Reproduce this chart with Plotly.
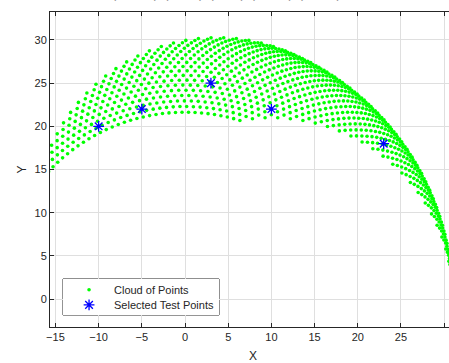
import numpy as np
import plotly.graph_objects as go

# Two-link planar arm: link lengths and joint sampling (degrees)
link_lengths = [10.0, 21.0]
theta1_deg = list(range(0, 69, 2))    # shoulder joint samples
theta2_deg = list(range(0, 101, 4))   # elbow joint samples

# Selected test points
test_x = [-10, -5, 3, 10, 23]
test_y = [20, 22, 25, 22, 18]

x_ticks = [-15, -10, -5, 0, 5, 10, 15, 20, 25, 30]
y_ticks = [0, 5, 10, 15, 20, 25, 30]

legend_labels = ["Cloud of Points", "Selected Test Points"]

# Forward kinematics over the joint grid
t1, t2 = np.meshgrid(np.radians(theta1_deg), np.radians(theta2_deg))
L1, L2 = link_lengths
cloud_x = (L1 * np.cos(t1) + L2 * np.cos(t1 + t2)).ravel()
cloud_y = (L1 * np.sin(t1) + L2 * np.sin(t1 + t2)).ravel()

cloud_marker = dict(color="#00ff00", size=3.6, line=dict(width=0))
star_marker = dict(symbol="asterisk-open", color="#0000ff", size=9,
                   line=dict(color="#0000ff", width=1.3))

fig = go.Figure()
fig.add_trace(go.Scatter(x=cloud_x, y=cloud_y, mode="markers",
                         name=legend_labels[0], marker=cloud_marker, showlegend=False))
fig.add_trace(go.Scatter(x=test_x, y=test_y, mode="markers",
                         name=legend_labels[1], marker=star_marker, showlegend=False))

# Compact legend drawn in its own small overlay axes
LEG = dict(x0=0.0326, x1=0.4236, y0=0.0381, y1=0.1524)
fig.add_trace(go.Scatter(x=[0.167], y=[0.70], mode="markers", marker=cloud_marker,
                         xaxis="x2", yaxis="y2", showlegend=False, hoverinfo="skip"))
fig.add_trace(go.Scatter(x=[0.167], y=[0.28], mode="markers", marker=star_marker,
                         xaxis="x2", yaxis="y2", showlegend=False, hoverinfo="skip"))

font_family = "Liberation Sans, Arial, sans-serif"
ink = "#262626"

axis_common = dict(
    showgrid=True, gridcolor="#dfdfdf", gridwidth=1,
    zeroline=False, showline=True, linecolor=ink, linewidth=1,
    ticks="inside", ticklen=4, tickcolor=ink,
    tickfont=dict(family=font_family, size=11, color=ink),
)

fig.update_layout(
    width=449, height=363,
    margin=dict(l=50, r=0, t=12, b=36),
    paper_bgcolor="white", plot_bgcolor="white",
    font=dict(family=font_family, color=ink),
    xaxis=dict(range=[-15.63, 30.56], tickvals=x_ticks, mirror="ticks", **axis_common),
    yaxis=dict(range=[-3.24, 33.24], tickvals=y_ticks, mirror=False,
               title=dict(text="Y", font=dict(size=12), standoff=5), **axis_common),
    xaxis2=dict(domain=[LEG["x0"], LEG["x1"]], range=[0, 1], anchor="y2",
                visible=False, fixedrange=True),
    yaxis2=dict(domain=[LEG["y0"], LEG["y1"]], range=[0, 1], anchor="x2",
                visible=False, fixedrange=True),
    shapes=[dict(type="rect", xref="paper", yref="paper",
                 x0=LEG["x0"], x1=LEG["x1"], y0=LEG["y0"], y1=LEG["y1"],
                 line=dict(color=ink, width=1), fillcolor="white", layer="below")],
    annotations=[
        dict(text=legend_labels[0], xref="paper", yref="paper", x=0.155, y=0.1175,
             xanchor="left", yanchor="middle", showarrow=False,
             font=dict(size=11, color=ink)),
        dict(text=legend_labels[1], xref="paper", yref="paper", x=0.155, y=0.0698,
             xanchor="left", yanchor="middle", showarrow=False,
             font=dict(size=11, color=ink)),
        # x-axis label, centred under the full axes box
        dict(text="X", xref="paper", yref="paper", x=0.509, y=-0.092,
             xanchor="center", yanchor="middle", showarrow=False,
             font=dict(size=12, color=ink)),
        dict(text="Test Points: (-10, 20), (-5, 22), (3, 25), (10, 22), (23, 18)",
             xref="paper", yref="paper", x=0.36, y=1.028, xanchor="center",
             yanchor="bottom", showarrow=False, font=dict(size=12, color="#8a8a8a")),
    ],
    showlegend=False,
)

fig.write_html("out.html")
